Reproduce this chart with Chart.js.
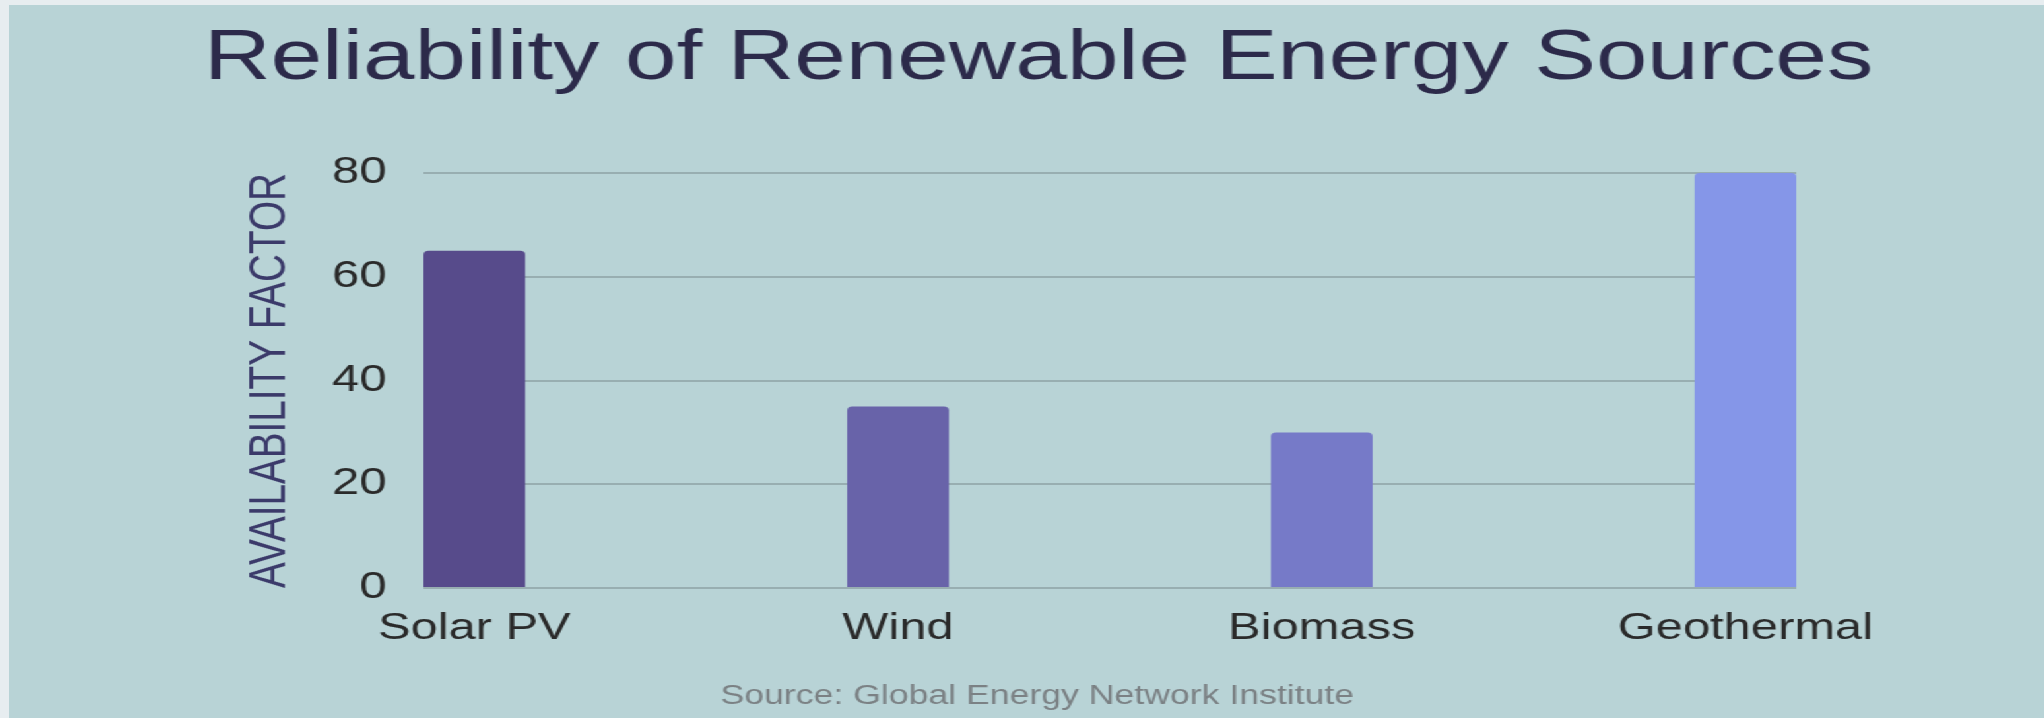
<!DOCTYPE html>
<html>
<head>
<meta charset="utf-8">
<title>Reliability of Renewable Energy Sources</title>
<script src="https://cdn.jsdelivr.net/npm/chart.js@4.4.1/dist/chart.umd.min.js"></script>
<style>
  html, body { margin: 0; padding: 0; background: #e7edf0; overflow: hidden; }
  /* the reference is stretched sideways, so the chart is drawn narrow and widened */
  #frame {
    position: absolute; left: 9px; top: 5px;
    width: 1542px; height: 713px;
    background: #b8d3d6;
    transform: scaleX(1.32); transform-origin: 0 0;
  }
</style>
</head>
<body>
<div id="frame"><canvas id="reliabilityChart"></canvas></div>
<script>
'use strict';

// --- DATA ---
const categories = ['Solar PV', 'Wind', 'Biomass', 'Geothermal'];
const availability = [65, 35, 30, 80];
const barColors = ['#574b8b', '#6863a9', '#767ac8', '#8596e8'];
const yTicks = [0, 20, 40, 60, 80];

const chartTitle = 'Reliability of Renewable Energy Sources';
const yAxisTitle = 'AVAILABILITY FACTOR';
const sourceNote = 'Source: Global Energy Network Institute';

const FONT = '"Liberation Sans", Arial, Helvetica, sans-serif';

// title and source line sit off-centre from the plot, so draw them here
const frameText = {
    id: 'frameText',
    afterDraw(chart) {
        const ctx = chart.ctx;
        ctx.save();
        ctx.textAlign = 'center';
        ctx.textBaseline = 'alphabetic';
        ctx.fillStyle = '#2c2a4a';
        ctx.font = `70px ${FONT}`;
        ctx.fillText(chartTitle, 780, 74);
        ctx.fillStyle = '#7b8184';
        ctx.font = `27px ${FONT}`;
        ctx.fillText(sourceNote, 779, 699);
        ctx.restore();
    }
};

const ctx = document.getElementById('reliabilityChart').getContext('2d');
new Chart(ctx, {
    type: 'bar',
    data: {
        datasets: [{
            data: availability.map((v, i) => ({ x: i, y: v })),
            backgroundColor: barColors,
            borderRadius: 4,
            categoryPercentage: 1,
            barPercentage: 0.24
        }]
    },
    options: {
        responsive: true,
        maintainAspectRatio: false,
        animation: false,
        layout: { padding: { top: 168, left: 150, right: 188, bottom: 40 } },
        plugins: {
            legend: { display: false },
            tooltip: { enabled: false }
        },
        scales: {
            x: {
                type: 'linear',
                offset: false,
                min: -0.12,
                max: categories.length - 1 + 0.12,
                afterBuildTicks: (scale) => { scale.ticks = categories.map((_, i) => ({ value: i })); },
                afterFit: (scale) => { scale.height = 90; },
                grid: { display: false },
                border: { display: false },
                ticks: {
                    autoSkip: false,
                    maxRotation: 0,
                    padding: 11,
                    color: '#2a2a2a',
                    font: { family: FONT, size: 37 },
                    callback: (v) => categories[v]
                }
            },
            y: {
                min: 0,
                max: 80,
                afterBuildTicks: (scale) => { scale.ticks = yTicks.map(v => ({ value: v })); },
                afterFit: (scale) => { scale.width = 164; },
                grid: { color: '#98aeb1', lineWidth: 2, drawTicks: false },
                border: { display: false },
                ticks: {
                    padding: 28,
                    color: '#2a2a2a',
                    font: { family: FONT, size: 37 }
                },
                title: {
                    display: true,
                    text: yAxisTitle,
                    color: '#3b3a6a',
                    padding: { top: 25, bottom: 0 },
                    font: { family: FONT, size: 38.7 }
                }
            }
        }
    },
    plugins: [frameText]
});
</script>
</body>
</html>
